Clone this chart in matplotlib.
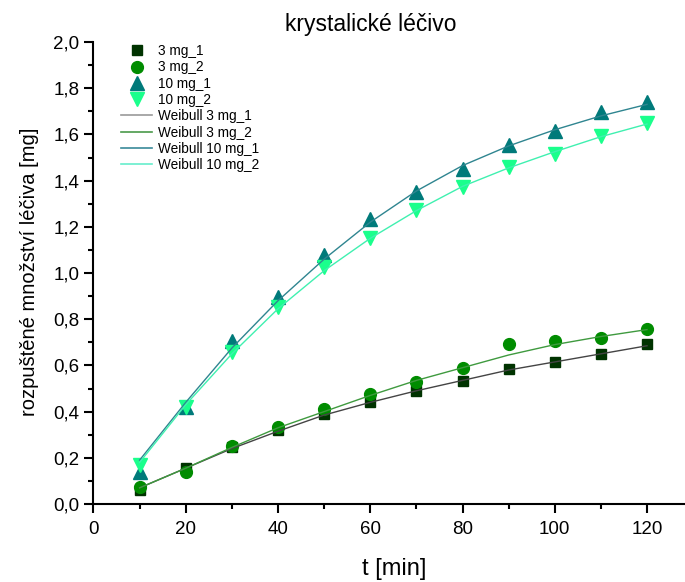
import matplotlib
matplotlib.use("Agg")
import matplotlib.pyplot as plt
from matplotlib.ticker import MultipleLocator, FuncFormatter
from matplotlib.lines import Line2D

plt.rcParams['font.family'] = ['Liberation Sans', 'DejaVu Sans']

t = [10, 20, 30, 40, 50, 60, 70, 80, 90, 100, 110, 120]

mg3_1 = [0.06, 0.155, 0.245, 0.32, 0.39, 0.44, 0.489, 0.532, 0.584, 0.615, 0.649, 0.692]
mg3_2 = [0.075, 0.14, 0.25, 0.335, 0.41, 0.478, 0.528, 0.589, 0.693, 0.706, 0.718, 0.757]
mg10_1 = [0.139, 0.42, 0.706, 0.897, 1.078, 1.235, 1.351, 1.45, 1.554, 1.615, 1.697, 1.74]
mg10_2 = [0.169, 0.42, 0.658, 0.853, 1.026, 1.152, 1.272, 1.372, 1.459, 1.515, 1.593, 1.649]

fit3_1 = [0.07, 0.155, 0.24, 0.315, 0.385, 0.44, 0.49, 0.535, 0.58, 0.615, 0.65, 0.685]
fit3_2 = [0.07, 0.155, 0.245, 0.33, 0.40, 0.47, 0.535, 0.59, 0.645, 0.69, 0.725, 0.755]
fit10_1 = [0.19, 0.44, 0.675, 0.88, 1.06, 1.22, 1.355, 1.465, 1.55, 1.62, 1.68, 1.73]
fit10_2 = [0.18, 0.43, 0.65, 0.845, 1.01, 1.15, 1.27, 1.375, 1.455, 1.525, 1.59, 1.645]

labels = ["3 mg_1", "3 mg_2", "10 mg_1", "10 mg_2",
          "Weibull 3 mg_1", "Weibull 3 mg_2", "Weibull 10 mg_1", "Weibull 10 mg_2"]

W, H = 685, 582
fig = plt.figure(figsize=(W / 100, H / 100), dpi=100)
ax = fig.add_axes([93.5 / W, 1 - 504 / H, (W - 93.5) / W, (504 - 42) / H])

c_sq = "#003300"
c_ci = "#008c00"
c_up = "#007a7a"
c_dn = "#1aff8c"
c_f1 = "#444444"
c_f2 = "#3f9a3f"
c_f3 = "#2f8590"
c_f4 = "#40f0b0"

ax.plot(t, mg3_1, ls="none", marker="s", ms=7.8, color=c_sq, zorder=3)
ax.plot(t, mg3_2, ls="none", marker="o", ms=8.5, color=c_ci, zorder=3)
ax.plot(t, mg10_1, ls="none", marker="^", ms=9.5, color=c_up, zorder=3)
ax.plot(t, mg10_2, ls="none", marker="v", ms=9.5, color=c_dn, zorder=3)
ax.plot(t, fit3_1, lw=1.0, color=c_f1, zorder=4)
ax.plot(t, fit3_2, lw=1.0, color=c_f2, zorder=4)
ax.plot(t, fit10_1, lw=1.0, color=c_f3, zorder=4)
ax.plot(t, fit10_2, lw=1.0, color=c_f4, zorder=4)

ax.set_xlim(0, (W - 93.5) / 4.6125)
ax.set_ylim(0, 2.0)

for s in ["top", "right"]:
    ax.spines[s].set_visible(False)
for s in ["left", "bottom"]:
    ax.spines[s].set_linewidth(1.5)

ax.xaxis.set_major_locator(MultipleLocator(20))
ax.xaxis.set_minor_locator(MultipleLocator(10))
ax.yaxis.set_major_locator(MultipleLocator(0.2))
ax.yaxis.set_minor_locator(MultipleLocator(0.1))
ax.yaxis.set_major_formatter(FuncFormatter(lambda v, p: f"{v:.1f}".replace(".", ",")))
ax.tick_params(which="major", direction="out", length=6.3, width=1.5, labelsize=13.5)
ax.tick_params(axis="x", which="major", pad=6)
ax.tick_params(axis="y", which="major", pad=4)
ax.tick_params(which="minor", direction="out", length=3.6, width=1.5)

leg_handles = [
    Line2D([], [], ls="none", marker="s", ms=7.8, color=c_sq),
    Line2D([], [], ls="none", marker="o", ms=8.5, color=c_ci),
    Line2D([], [], ls="none", marker="^", ms=9.5, color=c_up),
    Line2D([], [], ls="none", marker="v", ms=9.5, color=c_dn),
    Line2D([], [], lw=1.2, color="#999999"),
    Line2D([], [], lw=1.2, color="#4a9a4a"),
    Line2D([], [], lw=1.2, color="#3a8a99"),
    Line2D([], [], lw=1.2, color="#66eecc"),
]
ax.legend(leg_handles, labels, loc="upper left",
          bbox_to_anchor=(121 / W, 1 - 44 / H), bbox_transform=fig.transFigure,
          frameon=False, fontsize=9.8, labelspacing=0.17, handlelength=2.3,
          handletextpad=0.4, borderpad=0, borderaxespad=0)

fig.text(371 / W, 1 - 25 / H, "krystalické léčivo", ha="center", va="center", fontsize=16.5)
fig.text(394 / W, 1 - 569 / H, "t [min]", ha="center", va="center", fontsize=17)
fig.text(30 / W, 1 - 272 / H, "rozpuštěné množství léčiva [mg]", ha="center", va="center",
         rotation=90, fontsize=14.5)

fig.savefig("out.png", dpi=100)
